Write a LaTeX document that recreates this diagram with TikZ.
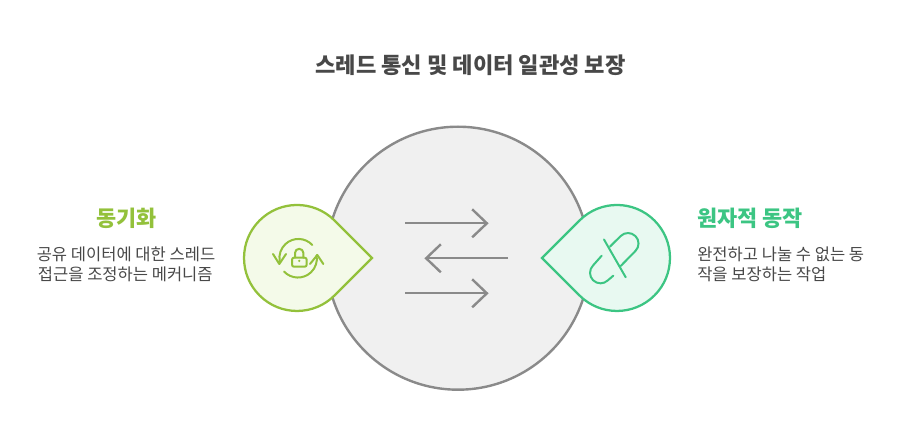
\documentclass[tikz,border=0pt]{standalone}
\usepackage{fontspec}
\setmainfont{Noto Sans CJK KR}
\usetikzlibrary{arrows.meta}
\definecolor{limeline}{HTML}{93C13B}
\definecolor{limefill}{HTML}{F4FAE9}
\definecolor{mintline}{HTML}{3CC583}
\definecolor{mintfill}{HTML}{E8F9F1}
\definecolor{ringline}{HTML}{8A8A8A}
\definecolor{ringfill}{HTML}{F0F0F0}
\definecolor{inktext}{HTML}{484848}
\tikzset{
  titletext/.style={text=inktext,font=\bfseries\fontsize{16.6}{18}\selectfont,inner sep=0pt},
  headtext/.style={font=\bfseries\fontsize{16.4}{18}\selectfont,inner sep=0pt},
  bodytext/.style={text=inktext,font=\fontsize{12.4}{15}\selectfont,inner sep=0pt},
  flowarrow/.style={draw=ringline,line width=1.8pt,-{Straight Barb[length=11pt,width=21pt,line width=1.8pt]}},
  dropshape/.style={line width=1.7pt,line join=miter},
  iconline/.style={line width=1.5pt,line cap=round,line join=round}
}
\begin{document}
\begin{tikzpicture}[x=0.75pt,y=-0.75pt]
\useasboundingbox (0,0) rectangle (907,445);
% big circle
\draw [draw=ringline,fill=ringfill,line width=1.8pt] (458,258.2) circle [radius=131.5];
% arrows
\coordinate (a1) at (405,223.3);
\coordinate (b1) at (488.6,223.3);
\coordinate (a2) at (508,258.3);
\coordinate (b2) at (424.4,258.3);
\coordinate (a3) at (405,293.3);
\coordinate (b3) at (488.6,293.3);
\draw [flowarrow] (a1) -- (b1);
\draw [flowarrow] (a2) -- (b2);
\draw [flowarrow] (a3) -- (b3);
% left drop
\draw [dropshape,draw=limeline,fill=limefill] (372,258) -- (334.5,220.5) arc [start angle=-45,end angle=-315,radius=53] -- cycle;
% lock icon
\draw [iconline,draw=limeline,rounded corners=1.5pt] (292,257.7) rectangle (306.7,266.7);
\draw [iconline,draw=limeline] (295,257.7) -- (295,253) arc [start angle=180,end angle=360,radius=4.2] -- (303.4,257.7);
\fill [limeline] (299.2,260.9) circle [radius=1.3];
\draw [iconline,draw=limeline] (312.3,245) arc [start angle=-43,end angle=-190,radius=19];
\draw [iconline,draw=limeline] (273,254) -- (279.3,264) -- (286,254);
\draw [iconline,draw=limeline] (284,271.5) arc [start angle=137,end angle=-10,radius=19];
\draw [iconline,draw=limeline] (310,264) -- (317.3,255) -- (323.3,264);
% right drop
\draw [dropshape,draw=mintline,fill=mintfill] (542,258) -- (579.5,220.5) arc [start angle=-135,end angle=135,radius=53] -- cycle;
% pill icon
\draw [iconline,draw=mintline] (610,246.6) -- (620.6,236.1) arc [start angle=-135,end angle=45,radius=10.5] -- (620.7,266);
\draw [iconline,draw=mintline] (601.7,255.7) -- (593.1,265.4) arc [start angle=-135,end angle=-315,radius=10.5] -- (613.3,275.7);
\draw [iconline,draw=mintline] (604,239.5) -- (625.7,277.3);
% texts
\node [titletext] (maintitle) at (470.5,65) {스레드 통신 및 데이터 일관성 보장};
\node [headtext,text=limeline] (synchead) at (126.5,218) {동기화};
\node [bodytext] (syncone) at (126,254) {공유 데이터에 대한 스레드};
\node [bodytext] (synctwo) at (125.3,274.5) {접근을 조정하는 메커니즘};
\node [headtext,text=mintline,anchor=west] (atomhead) at (697,218) {원자적 동작};
\node [bodytext,anchor=west] (atomone) at (697,254) {완전하고 나눌 수 없는 동};
\node [bodytext,anchor=west] (atomtwo) at (697,274.5) {작을 보장하는 작업};
\end{tikzpicture}
\end{document}
